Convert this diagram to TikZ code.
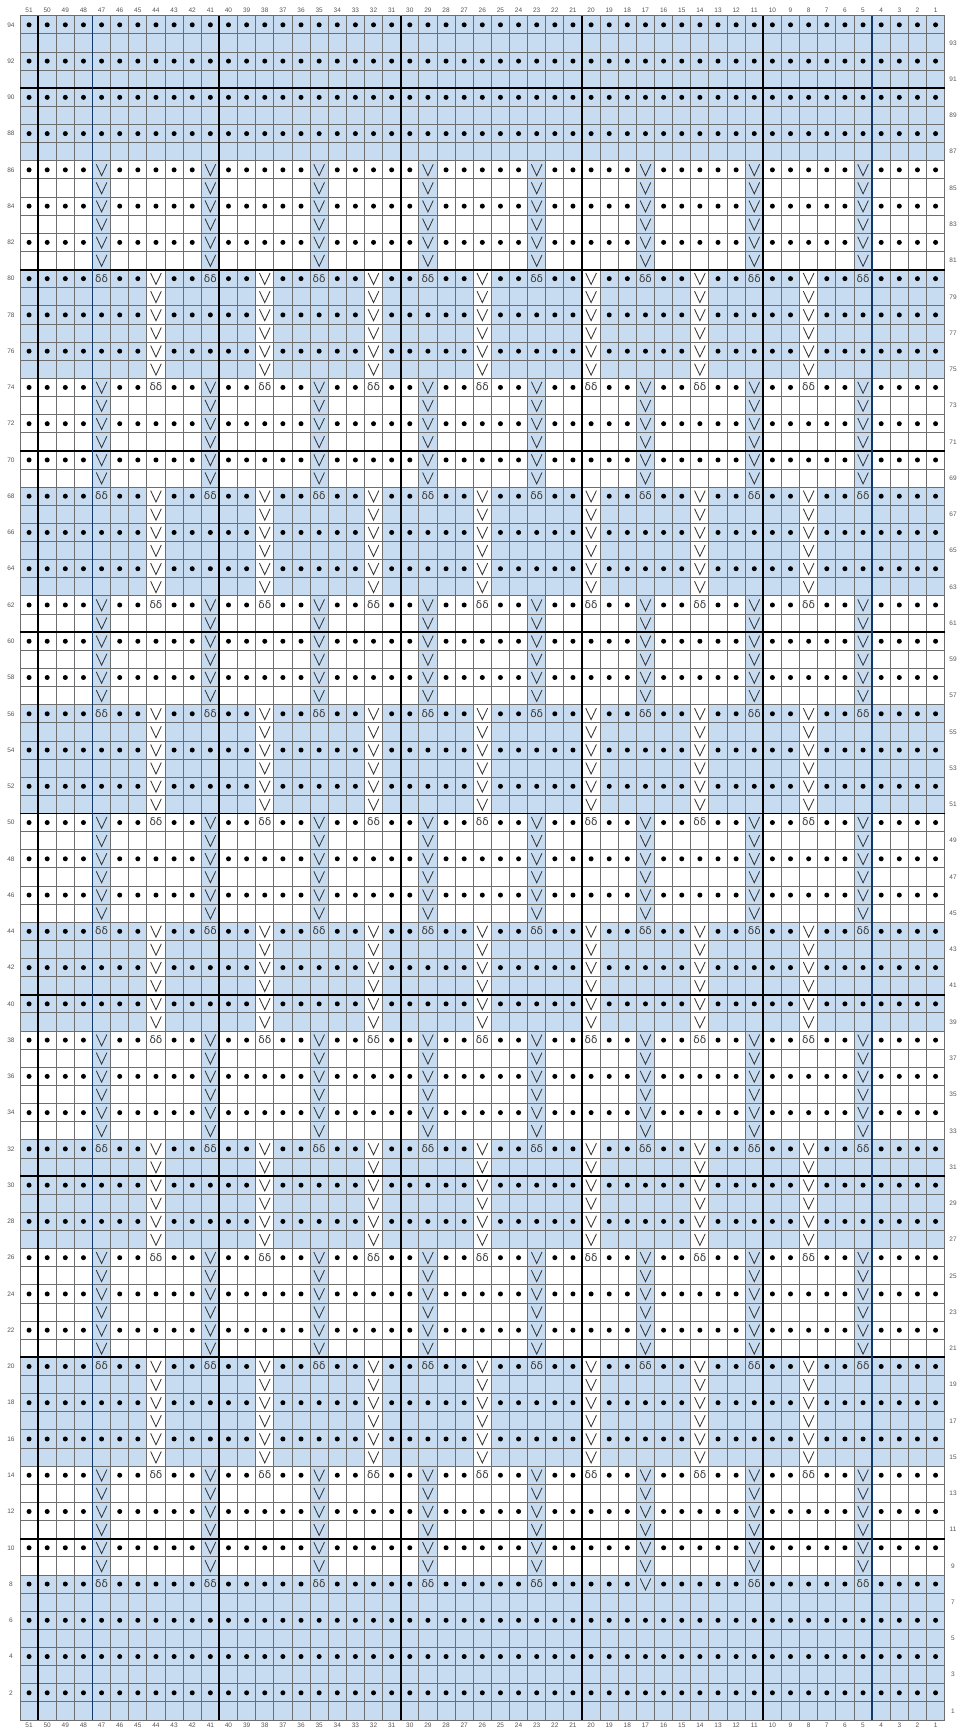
\documentclass[tikz,border=0pt]{standalone}
\usepackage{fontspec}
\setmainfont{Liberation Sans}
\newfontfamily\symfont{DejaVu Sans}
\definecolor{bluec}{RGB}{200,220,241}
\definecolor{gridc}{RGB}{110,110,110}
\definecolor{navyc}{RGB}{18,55,105}
\definecolor{labc}{RGB}{85,85,85}
\definecolor{symc}{RGB}{55,55,55}
\newcommand\cellsz{18.13}
\newcommand\rowband[3]{\fill[#3] (20,{13+(#1-1)*\cellsz}) rectangle ({20+51*\cellsz},{13+(#2)*\cellsz});}
\newcommand\colstrip[4]{\fill[#4] ({20+(51-#1)*\cellsz},{13+(#2-1)*\cellsz}) rectangle ({20+(52-#1)*\cellsz},{13+(#3)*\cellsz});}
\newcommand\dotat[2]{\fill[black] ({20+(51.5-#1)*\cellsz},{13+(#2-0.5)*\cellsz}) circle (2.5);}
\newcommand\slipat[2]{\pic at ({20+(51.5-#1)*\cellsz},{13+(#2-0.5)*\cellsz}) {vsym};}
\newcommand\wrapat[2]{\pic at ({20+(51.5-#1)*\cellsz},{13+(#2-0.5)*\cellsz}) {wsym};}
\tikzset{
  vsym/.pic={\draw[symc,line width=0.85pt,line join=miter] (-5.3,5.6) -- (0,-5.8) -- (5.3,5.6);},
  wsym/.pic={\node[font=\symfont\fontsize{10.5}{10.5}\selectfont,inner sep=0pt,text=symc] at (0,0.4) {δδ};},
  thinline/.style={gridc,line width=0.9pt},
  thickline/.style={black,line width=1.9pt},
  navyline/.style={navyc,line width=1.9pt},
  lab/.style={font=\fontsize{6.5}{7}\selectfont,text=labc,inner sep=0pt}
}
\begin{document}
\begin{tikzpicture}[x=1pt,y=1pt]
\useasboundingbox (0,0) rectangle (959,1733);
\fill[white] (0,0) rectangle (959,1733);
% backgrounds
\foreach \a/\b in {1/8,15/20,27/32,39/44,51/56,63/68,75/80,87/94} {\rowband{\a}{\b}{bluec}}
\foreach \a in {9,21,...,81} {\foreach \c in {5,11,...,47} {\colstrip{\c}{\a}{\a+5}{bluec}}}
\foreach \a in {15,27,...,75} {\foreach \c in {8,14,...,44} {\colstrip{\c}{\a}{\a+5}{white}}}
% grid
\foreach \i in {0,...,51} {\draw[thinline] ({20+\i*\cellsz},13) -- ({20+\i*\cellsz},{13+94*\cellsz});}
\foreach \j in {0,...,94} {\draw[thinline] (20,{13+\j*\cellsz}) -- ({20+51*\cellsz},{13+\j*\cellsz});}
\foreach \j in {10,20,...,90} {\draw[thickline] (20,{13+\j*\cellsz}) -- ({20+51*\cellsz},{13+\j*\cellsz});}
\foreach \i in {1,11,21,31,41} {\draw[thickline] ({20+\i*\cellsz},13) -- ({20+\i*\cellsz},{13+94*\cellsz});}
\foreach \i in {4,47} {\draw[navyline] ({20+\i*\cellsz},13) -- ({20+\i*\cellsz},{13+94*\cellsz});}
% dots
\foreach \c in {1,2,3,4,6,7,9,10,12,13,15,16,18,19,21,22,24,25,27,28,30,31,33,34,36,37,39,40,42,43,45,46,48,49,50,51} {\foreach \r in {2,4,...,94} {\dotat{\c}{\r}}}
\foreach \c in {5,11,...,47} {\foreach \r in {2,4,6,16,18,28,30,40,42,52,54,64,66,76,78,88,90,92,94} {\dotat{\c}{\r}}}
\foreach \c in {8,14,...,44} {\foreach \r in {2,4,6,8,10,12,22,24,34,36,46,48,58,60,70,72,82,84,86,88,90,92,94} {\dotat{\c}{\r}}}
% slip stitches
\foreach \c in {5,11,...,47} {\foreach \a in {9,21,...,81} {\foreach \k in {0,...,5} {\slipat{\c}{\a+\k}}}}
\slipat{17}{8}
\foreach \c in {8,14,...,44} {\foreach \a in {15,27,...,75} {\foreach \k in {0,...,5} {\slipat{\c}{\a+\k}}}}
% wrapped stitches
\foreach \c in {5,11,23,29,35,41,47} {\wrapat{\c}{8}}
\foreach \c in {5,11,...,47} {\foreach \r in {20,32,...,80} {\wrapat{\c}{\r}}}
\foreach \c in {8,14,...,44} {\foreach \r in {14,26,...,74} {\wrapat{\c}{\r}}}
% labels
\foreach \c in {1,...,51} {
  \node[lab] (top\c) at ({20+(51.5-\c)*\cellsz},1723) {\c};
  \node[lab] (bot\c) at ({20+(51.5-\c)*\cellsz},8) {\c};
}
\foreach \r in {2,4,...,94} {\node[lab] (rl\r) at (11,{13+(\r-0.5)*\cellsz}) {\r};}
\foreach \r in {1,3,...,93} {\node[lab] (rr\r) at (953,{13+(\r-0.5)*\cellsz}) {\r};}
\end{tikzpicture}
\end{document}
